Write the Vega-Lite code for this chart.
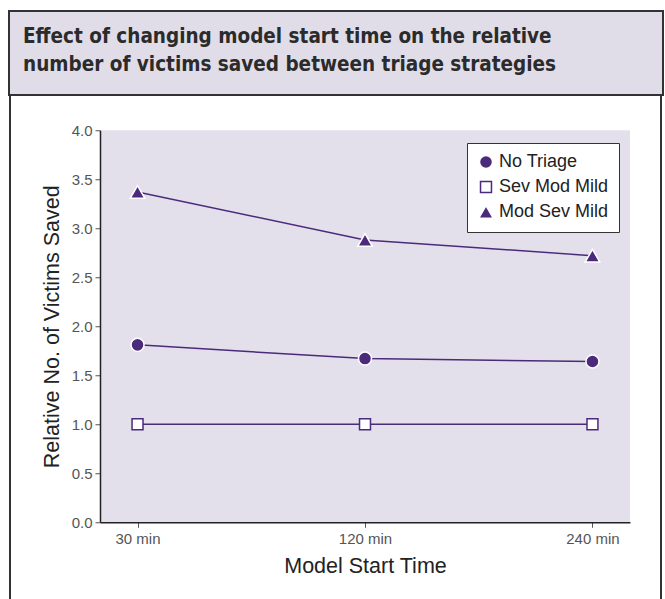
{
  "$schema": "https://vega.github.io/schema/vega-lite/v6.json",
  "padding": {"left": 8, "top": 10, "right": 0, "bottom": 0},
  "background": "white",
  "spacing": 0,
  "vconcat": [
    {
      "width": 654,
      "height": 84,
      "view": {"fill": "#e1dde8", "stroke": "#333333", "strokeWidth": 2},
      "data": {"values": []},
      "mark": "point",
      "title": {
        "text": ["Effect of changing model start time on the relative", "number of victims saved between triage strategies"],
        "anchor": "start",
        "orient": "top",
        "offset": -64,
        "dx": 14,
        "font": "DejaVu Sans Condensed, sans-serif",
        "fontSize": 20.5,
        "fontWeight": "bold",
        "color": "#2b2b2b",
        "lineHeight": 28
      }
    },
    {
      "hconcat": [
        {
          "width": 2,
          "height": 515,
          "view": {"fill": "#333333", "stroke": null},
          "data": {"values": []},
          "mark": "point"
        },
        {
          "width": 530,
          "height": 392,
          "view": {"fill": "#e3e0ec", "stroke": null},
          "data": {
            "values": [
              {"time": "30 min", "strategy": "No Triage", "value": 1.81},
              {"time": "120 min", "strategy": "No Triage", "value": 1.67},
              {"time": "240 min", "strategy": "No Triage", "value": 1.64},
              {"time": "30 min", "strategy": "Sev Mod Mild", "value": 1.0},
              {"time": "120 min", "strategy": "Sev Mod Mild", "value": 1.0},
              {"time": "240 min", "strategy": "Sev Mod Mild", "value": 1.0},
              {"time": "30 min", "strategy": "Mod Sev Mild", "value": 3.37},
              {"time": "120 min", "strategy": "Mod Sev Mild", "value": 2.88},
              {"time": "240 min", "strategy": "Mod Sev Mild", "value": 2.72}
            ]
          },
          "encoding": {
            "x": {
              "field": "time",
              "type": "ordinal",
              "sort": ["30 min", "120 min", "240 min"],
              "scale": {"type": "point", "padding": 0.165},
              "axis": {"title": "Model Start Time", "labelAngle": 0, "labelPadding": 4, "titlePadding": 9}
            },
            "y": {
              "field": "value",
              "type": "quantitative",
              "scale": {"domain": [0, 4], "nice": false},
              "axis": {"title": "Relative No. of Victims Saved", "values": [0, 0.5, 1, 1.5, 2, 2.5, 3, 3.5, 4], "format": ".1f", "labelPadding": 3, "titlePadding": 8}
            }
          },
          "layer": [
            {
              "mark": {"type": "line", "color": "#4b2a7b", "strokeWidth": 1.5},
              "encoding": {"detail": {"field": "strategy"}}
            },
            {
              "mark": {"type": "point", "opacity": 1, "strokeWidth": 1.5},
              "encoding": {
                "shape": {
                  "field": "strategy",
                  "type": "nominal",
                  "scale": {"domain": ["No Triage", "Sev Mod Mild", "Mod Sev Mild"], "range": ["circle", "square", "triangle-up"]},
                  "legend": {"title": null, "orient": "none", "legendX": 458, "legendY": 132, "encode": {"symbols": {"update": {"size": {"value": 115}}}}}
                },
                "fill": {
                  "field": "strategy",
                  "type": "nominal",
                  "scale": {"domain": ["No Triage", "Sev Mod Mild", "Mod Sev Mild"], "range": ["#4b2a7b", "#ffffff", "#4b2a7b"]},
                  "legend": {"title": null, "orient": "none", "legendX": 458, "legendY": 132, "encode": {"symbols": {"update": {"size": {"value": 115}}}}}
                },
                "stroke": {
                  "field": "strategy",
                  "type": "nominal",
                  "scale": {"domain": ["No Triage", "Sev Mod Mild", "Mod Sev Mild"], "range": ["#ffffff", "#4b2a7b", "#ffffff"]},
                  "legend": {"title": null, "orient": "none", "legendX": 458, "legendY": 132, "encode": {"symbols": {"update": {"size": {"value": 115}}}}}
                },
                "size": {
                  "field": "strategy",
                  "type": "nominal",
                  "scale": {"type": "ordinal", "domain": ["No Triage", "Sev Mod Mild", "Mod Sev Mild"], "range": [170, 120, 215]},
                  "legend": {"title": null, "orient": "none", "legendX": 458, "legendY": 132, "encode": {"symbols": {"update": {"size": {"value": 115}}}}}
                }
              }
            }
          ]
        },
        {
          "width": 2,
          "height": 515,
          "view": {"fill": "#333333", "stroke": null},
          "data": {"values": []},
          "mark": "point"
        }
      ],
      "spacing": 30,
      "center": true
    }
  ],
  "config": {
    "font": "Liberation Sans",
    "axis": {
      "labelFont": "Liberation Sans",
      "labelFontSize": 15,
      "labelColor": "#555555",
      "tickColor": "#555555",
      "tickSize": 5,
      "domainColor": "#222222",
      "domainWidth": 1.5,
      "titleFont": "Liberation Sans",
      "titleFontSize": 21.5,
      "titleFontWeight": "normal",
      "titleColor": "#222222",
      "grid": false
    },
    "legend": {
      "fillColor": "#ffffff",
      "strokeColor": "#333333",
      "padding": 10,
      "labelFont": "Liberation Sans",
      "labelFontSize": 18,
      "labelColor": "#222222",
      "rowPadding": 6,
      "labelOffset": 4
    }
  }
}
